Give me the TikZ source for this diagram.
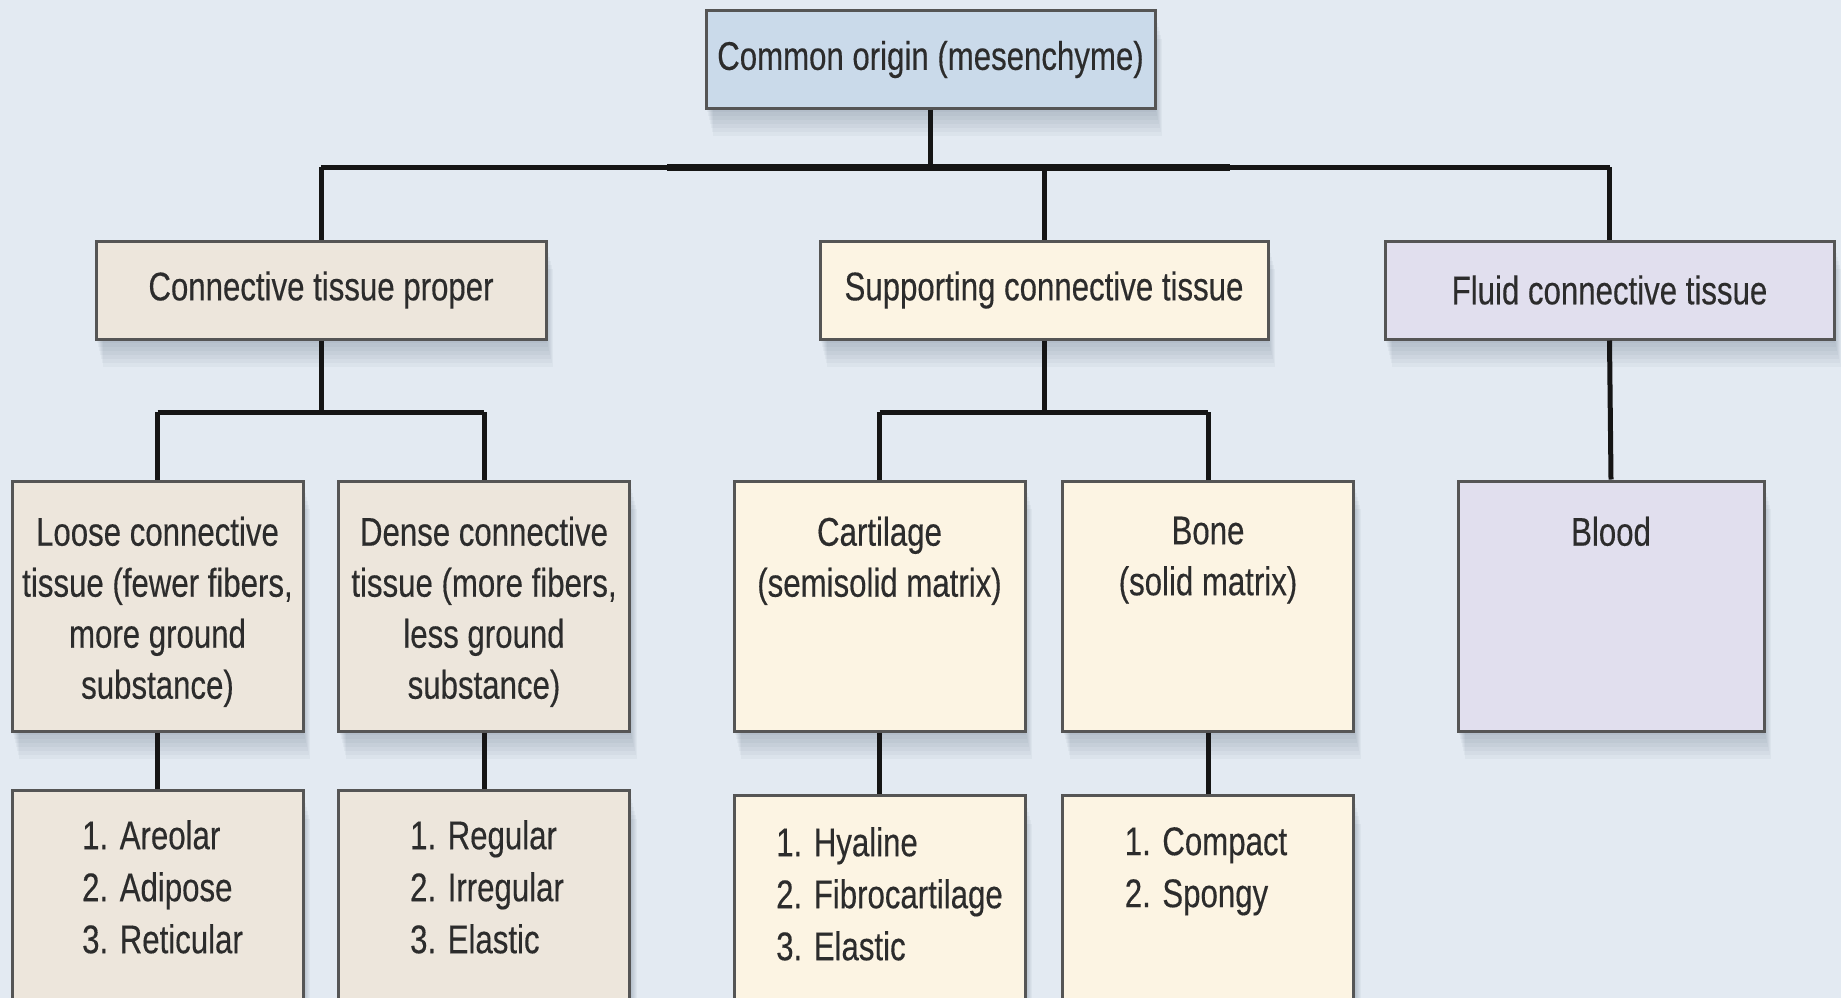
\documentclass[tikz,border=0pt]{standalone}
\usepackage{fontspec}
\setmainfont{Liberation Sans}[FakeStretch=0.78,FakeBold=0.3]
\definecolor{bg}{HTML}{E3EAF2}
\definecolor{topc}{HTML}{CADAEA}
\definecolor{ctpc}{HTML}{EDE6DC}
\definecolor{sctc}{HTML}{FCF4E3}
\definecolor{fctc}{HTML}{E1DFEE}
\definecolor{bordc}{HTML}{555555}
\definecolor{txtc}{HTML}{2C2C2C}
\definecolor{connc}{HTML}{151515}
\definecolor{shadc}{HTML}{3A4A60}
\tikzset{
  shl/.style 2 args={preaction={fill=shadc, draw=none, fill opacity=0.045, transform canvas={xshift=#1, yshift=#2}}},
  box/.style={draw=bordc, line width=3pt, rectangle, inner sep=0pt,
    shl={1pt}{-4pt}, shl={2pt}{-8pt}, shl={3pt}{-12pt}, shl={4pt}{-16pt}, shl={5pt}{-20pt}, shl={6pt}{-24pt}, shl={7pt}{-28pt},
    text=txtc, font=\fontsize{40}{51}\selectfont},
  txt/.style={inner sep=0pt, text=txtc, align=center, font=\fontsize{40}{51}\selectfont},
  lst/.style={inner sep=0pt, text=txtc, align=left, font=\fontsize{40}{52}\selectfont},
  conn/.style={draw=connc, line width=5pt},
  small/.style={minimum width=291pt, minimum height=250pt},
  list/.style={minimum width=291pt, minimum height=210pt}
}
\begin{document}
\begin{tikzpicture}[x=1pt,y=-1pt]
\fill[bg] (0,0) rectangle (1841,998);
\useasboundingbox (0,0) rectangle (1841,998);

% top
\node[box, fill=topc, minimum width=449pt, minimum height=97pt] (top) at (930.5,59.5) {Common origin (mesenchyme)};

% second row
\node[box, fill=ctpc, minimum width=450pt, minimum height=98pt] (ctp) at (321,290) {Connective tissue proper};
\node[box, fill=sctc, minimum width=448pt, minimum height=98pt] (sct) at (1044,290) {Supporting connective tissue};
\node[box, fill=fctc, minimum width=449pt, minimum height=98pt] (fct) at (1609.5,290) {Fluid connective tissue};

% third row
\node[box, fill=ctpc, small] (loose) at (157.5,606) {};
\node[box, fill=ctpc, small] (dense) at (484,606) {};
\node[box, fill=sctc, small] (cart) at (879.5,606) {};
\node[box, fill=sctc, small] (bone) at (1208,606) {};
\node[box, fill=fctc, minimum width=306pt, minimum height=250pt] (blood) at (1611,606) {};

\node[txt, anchor=north] (loosetxt) at ([yshift=-37pt]loose.north) {Loose connective\\tissue (fewer fibers,\\more ground\\substance)};
\node[txt, anchor=north] (densetxt) at ([yshift=-37pt]dense.north) {Dense connective\\tissue (more fibers,\\less ground\\substance)};
\node[txt, anchor=north] (carttxt) at ([yshift=-37pt]cart.north) {Cartilage\\(semisolid matrix)};
\node[txt, anchor=north] (bonetxt) at ([yshift=-37pt]bone.north) {Bone\\(solid matrix)};
\node[txt, anchor=north] (bloodtxt) at ([yshift=-37pt]blood.north) {Blood};

% fourth row
\node[box, fill=ctpc, list, anchor=north] (areo) at (157.5,789) {};
\node[box, fill=ctpc, list, anchor=north] (regu) at (484,789) {};
\node[box, fill=sctc, list, anchor=north, minimum height=205pt] (hyal) at (879.5,794) {};
\node[box, fill=sctc, list, anchor=north, minimum height=205pt] (comp) at (1208,794) {};

\node[lst, anchor=north] (areotxt) at ([xshift=5pt,yshift=-31pt]areo.north) {1. Areolar\\2. Adipose\\3. Reticular};
\node[lst, anchor=north] (regutxt) at ([xshift=3pt,yshift=-31pt]regu.north) {1. Regular\\2. Irregular\\3. Elastic};
\node[lst, anchor=north] (hyaltxt) at ([xshift=10pt,yshift=-33pt]hyal.north) {1. Hyaline\\2. Fibrocartilage\\3. Elastic};
\node[lst, anchor=north] (comptxt) at ([xshift=-2pt,yshift=-33pt]comp.north) {1. Compact\\2. Spongy};

% connectors
\coordinate (bar1) at (930.5,167);
\coordinate (thickL) at (667,167);
\coordinate (thickR) at (1230,167);
\coordinate (br1) at (321,412);
\coordinate (br2) at (1044,412);

\draw[conn] (top.south) -- (top.south |- bar1);
\draw[conn] (ctp.north |- bar1) -- (fct.north |- bar1);
\draw[conn, line width=7pt] (thickL) -- (thickR);
\draw[conn] (ctp.north |- bar1) -- (ctp.north);
\draw[conn] (sct.north |- bar1) -- (sct.north);
\draw[conn] (fct.north |- bar1) -- (fct.north);

\draw[conn] (ctp.south) -- (br1);
\draw[conn] (loose.north |- br1) -- (dense.north |- br1);
\draw[conn] (loose.north |- br1) -- (loose.north);
\draw[conn] (dense.north |- br1) -- (dense.north);

\draw[conn] (sct.south) -- (br2);
\draw[conn] (cart.north |- br2) -- (bone.north |- br2);
\draw[conn] (cart.north |- br2) -- (cart.north);
\draw[conn] (bone.north |- br2) -- (bone.north);

\draw[conn] (fct.south) -- (blood.north);

\draw[conn] (loose.south) -- (areo.north);
\draw[conn] (dense.south) -- (regu.north);
\draw[conn] (cart.south) -- (hyal.north);
\draw[conn] (bone.south) -- (comp.north);
\end{tikzpicture}
\end{document}
